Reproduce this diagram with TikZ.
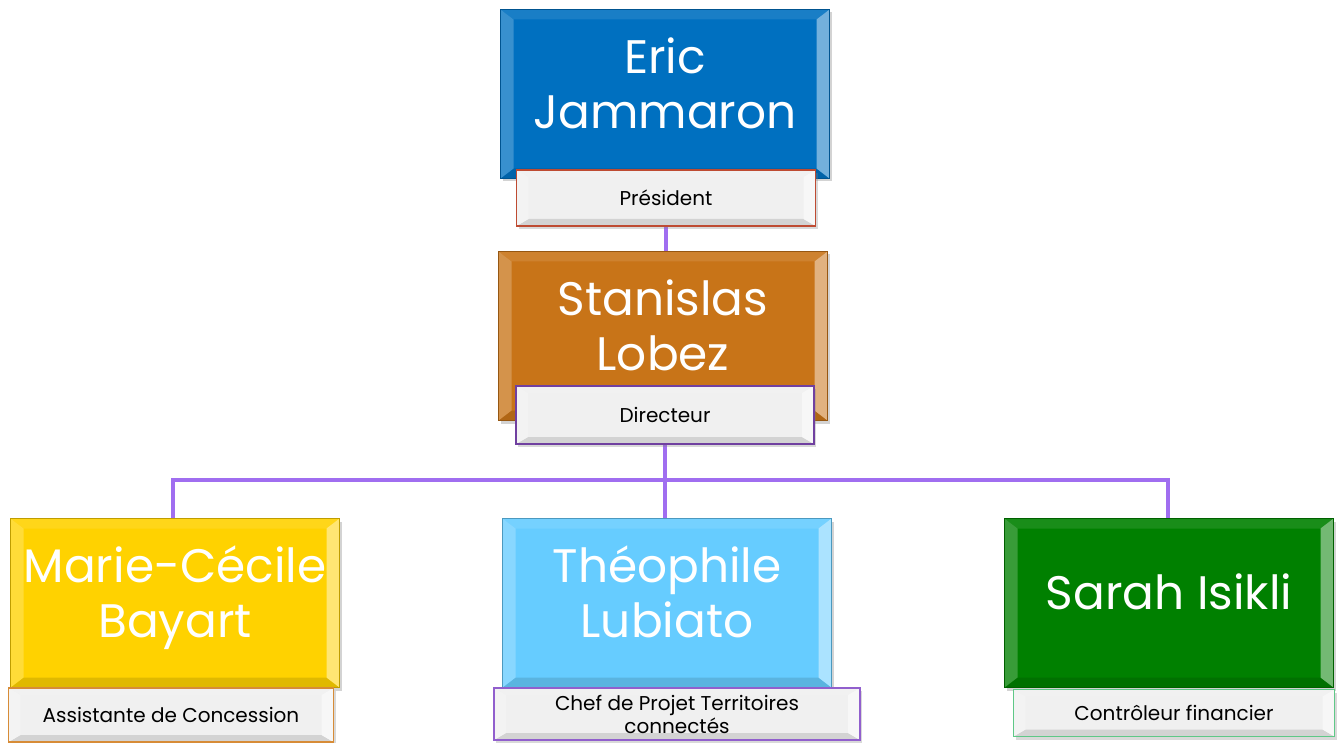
\documentclass[tikz,border=0pt]{standalone}
\usepackage{fontspec}
\setmainfont{Poppins}
\usetikzlibrary{
    positioning,
    calc,
    shadows,
    backgrounds
}
\definecolor{ericC} {RGB}{  0,112,192}
\definecolor{stanC} {RGB}{200,116, 24}
\definecolor{marieC}{RGB}{255,210,  0}
\definecolor{theoC} {RGB}{102,204,255}
\definecolor{sarahC}{RGB}{  0,128,  0}
\definecolor{linkC} {RGB}{160,110,240}
\definecolor{roleF} {RGB}{240,240,240}
\definecolor{presB} {RGB}{190, 75, 50}
\definecolor{dirB}  {RGB}{112, 64,160}
\definecolor{assB}  {RGB}{215,140, 55}
\definecolor{chefB} {RGB}{145, 95,205}
\definecolor{ctrlB} {RGB}{ 95,200,135}
\newcommand{\bevelpic}[3]{%
  \coordinate (bNW) at (path picture bounding box.north west);
  \coordinate (bNE) at (path picture bounding box.north east);
  \coordinate (bSW) at (path picture bounding box.south west);
  \coordinate (bSE) at (path picture bounding box.south east);
  \fill[#1!90!white] (bNW) -- (bNE) -- ($(bNE)+(-#2,-#3)$) -- ($(bNW)+(#2,-#3)$) -- cycle;
  \fill[#1!88!black] (bSW) -- (bSE) -- ($(bSE)+(-#2,#3)$) -- ($(bSW)+(#2,#3)$) -- cycle;
  \fill[#1!78!white] (bNW) -- (bSW) -- ($(bSW)+(#2,#3)$) -- ($(bNW)+(#2,-#3)$) -- cycle;
  \fill[#1!55!white] (bNE) -- (bSE) -- ($(bSE)+(-#2,#3)$) -- ($(bNE)+(-#2,-#3)$) -- cycle;
}
% lifts the name a little above the middle of its box
\newcommand{\lift}{\\[-33pt]}
\tikzset{
  person/.style = {draw=#1!75!black, fill=#1, line width=0.6pt,
                   minimum width=329pt, minimum height=169pt, inner sep=0pt,
                   align=center, text=white,
                   font=\fontsize{47}{55}\selectfont,
                   path picture={\bevelpic{#1}{13pt}{10pt}},
                   drop shadow={opacity=0.35, shadow xshift=2pt, shadow yshift=-3pt}},
  role/.style   = {draw=#1, fill=roleF, line width=1.8pt, inner sep=0pt,
                   align=center, text=black,
                   font=\fontsize{20}{23}\selectfont,
                   path picture={\bevelpic{roleF}{12pt}{7pt}},
                   drop shadow={opacity=0.3, shadow xshift=2pt, shadow yshift=-3pt}},
  link/.style   = {draw=linkC, line width=3.5pt}
}

\begin{document}
\begin{tikzpicture}[x=1pt, y=-1pt]
  \useasboundingbox (0,0) rectangle (1338,743);

  %% ── Top of the chart ──────────────────────────────────────────
  \node[person=ericC] (eric) at (665,94) {Eric\\Jammaron\lift};
  \node[role=presB, minimum width=299pt, minimum height=56pt] (pres) at (666,198) {Président};

  \node[person=stanC] (stan) at (663,336) {Stanislas\\Lobez\lift};
  \node[role=dirB, minimum width=298pt, minimum height=58pt] (dir) at (665,415) {Directeur};

  %% ── Team ──────────────────────────────────────────────────────
  \node[person=marieC] (marie) at (175,603) {Marie-Cécile\\Bayart\lift};
  \node[role=assB, minimum width=325pt, minimum height=54pt] (assist) at (171,715) {Assistante de Concession};

  \node[person=theoC] (theo) at (667,603) {Théophile\\Lubiato\lift};
  \node[role=chefB, minimum width=366pt, minimum height=52pt] (chef) at (677,714) {Chef de Projet Territoires\\connectés};

  \node[person=sarahC] (sarah) at (1169,603) {Sarah Isikli\lift};
  \node[role=ctrlB, minimum width=321pt, minimum height=47pt] (ctrl) at (1174,713) {Contrôleur financier};

  %% ── Links ─────────────────────────────────────────────────────
  \begin{scope}[on background layer]
    \draw[link] (pres.south) -- (pres.south |- stan.north);
    \draw[link] (dir.south) -- (dir.south |- theo.north);
    \draw[link] ([xshift=-2pt]marie.north) -- ++(0,-38) -| ([xshift=-1pt]sarah.north);
  \end{scope}

\end{tikzpicture}
\end{document}
